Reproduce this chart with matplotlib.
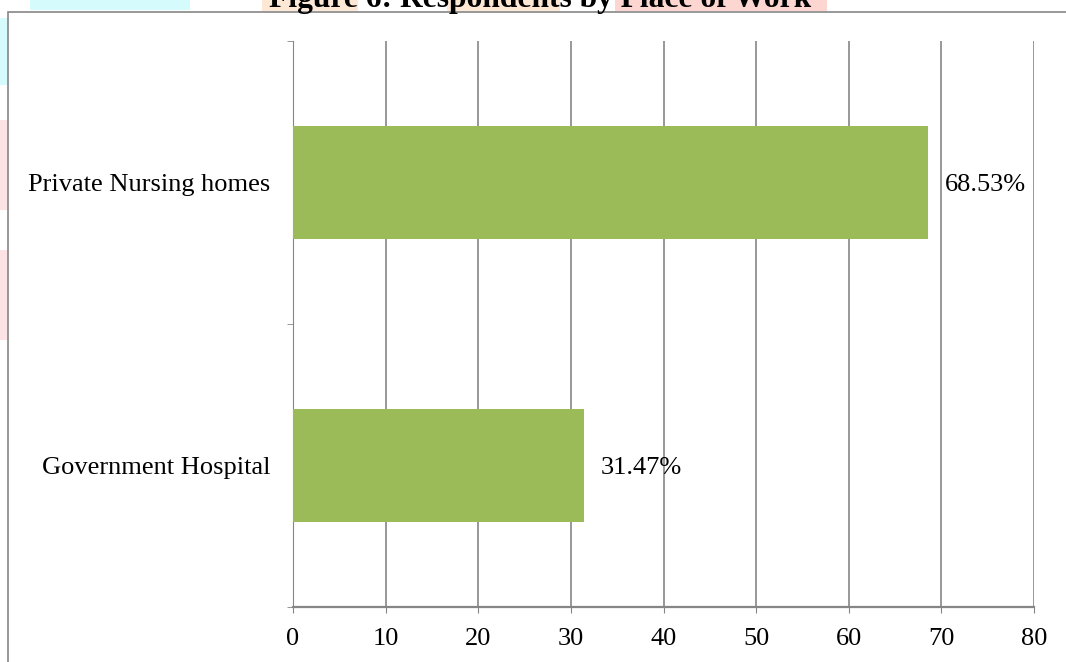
import matplotlib
matplotlib.use("Agg")
import matplotlib.pyplot as plt
from matplotlib.patches import Rectangle

# data
places = ["Government Hospital", "Private Nursing homes"]
shares = [31.47, 68.53]
bar_labels = ["31.47%", "68.53%"]
x_ticks = [0, 10, 20, 30, 40, 50, 60, 70, 80]

W, H = 1066, 662
plt.rcParams["font.family"] = ["Liberation Serif", "DejaVu Serif"]

fig = plt.figure(figsize=(W / 100, H / 100), dpi=100)


def fbox(x0, y0, x1, y1, z=-2, **kw):
    # rectangle given in pixel coords (top-left origin)
    fig.patches.append(Rectangle((x0 / W, 1 - y1 / H), (x1 - x0) / W, (y1 - y0) / H,
                                 transform=fig.transFigure, lw=0, zorder=z, **kw))


# faint watermark blobs behind the chart
fbox(30, 0, 190, 10, color="#d6fbfd")
fbox(0, 18, 8, 85, color="#d6fbfd")
fbox(0, 120, 8, 210, color="#fde3e3")
fbox(0, 250, 8, 340, color="#fde3e3")
fbox(262, 0, 358, 11, color="#fde8d6")
fbox(447, 0, 560, 11, color="#fde8d6")
fbox(615, 0, 827, 11, color="#fdd6d2")

# outer chart border (white fill hides the watermark inside)
fig.patches.append(Rectangle((8 / W, -0.1), 1.1, 1 - 12 / H + 0.1,
                             transform=fig.transFigure, fc="white",
                             ec="#868686", lw=1.2, zorder=-1))

fig.text(540 / W, 1 - 7 / H, "Figure 6: Respondents by Place of Work",
         ha="center", va="baseline", fontsize=22.7, fontweight="bold")

ax = fig.add_axes([293 / W, 1 - 607 / H, (1034 - 293) / W, (607 - 41) / H])
ax.set_zorder(5)
ax.set_facecolor("none")
ax.barh(range(len(places)), shares, height=0.4, color="#9bbb59", zorder=3)
for i, (v, t) in enumerate(zip(shares, bar_labels)):
    ax.annotate(t, (v, i), xytext=(12, -2), textcoords="offset points",
                va="center", ha="left", fontsize=19)

ax.set_xlim(0, 80)
ax.set_ylim(-0.5, 1.5)
ax.set_xticks(x_ticks)
ax.set_yticks(range(len(places)))
ax.set_yticklabels(places)
ax.set_yticks([-0.5, 0.5, 1.5], minor=True)
ax.tick_params(axis="y", which="major", length=0, pad=16.5, labelsize=19)
ax.tick_params(axis="y", which="minor", length=4, color="#868686")
ax.tick_params(axis="x", length=4, color="#868686", pad=11, labelsize=19)
ax.grid(axis="x", color="#868686", lw=1.2, zorder=1)
for s in ["top", "right"]:
    ax.spines[s].set_visible(False)
ax.spines["left"].set_color("#868686")
ax.spines["bottom"].set_color("#868686")
ax.spines["bottom"].set_linewidth(1.6)

fig.savefig("out.png", dpi=100)
